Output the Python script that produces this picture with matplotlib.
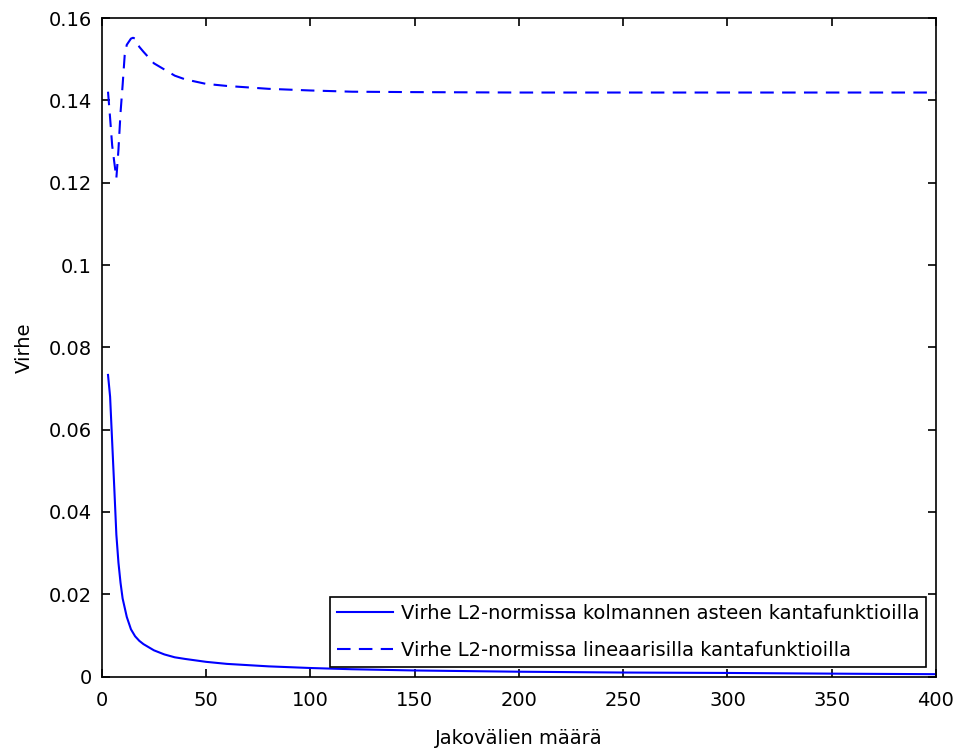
import matplotlib
matplotlib.use("Agg")
import matplotlib.pyplot as plt

# Virhe L2-normissa kolmannen asteen kantafunktioilla (solid)
x_cubic = [3, 4, 5, 6, 7, 8, 9, 10, 12, 14, 16, 18, 20, 25, 30, 35, 40, 50,
           60, 70, 80, 100, 120, 150, 200, 250, 300, 360, 400]
err_cubic = [0.0733, 0.0680, 0.0569, 0.0459, 0.0345, 0.0277, 0.0228, 0.0190,
             0.0145, 0.0115, 0.0098, 0.0087, 0.0079, 0.0064, 0.0054, 0.0047,
             0.0043, 0.0036, 0.0031, 0.0028, 0.0025, 0.0021, 0.0018, 0.0015,
             0.0012, 0.0010, 0.0009, 0.0007, 0.0006]

# Virhe L2-normissa lineaarisilla kantafunktioilla (dashed)
x_lin = [3, 4, 5, 6, 7, 8, 9, 10, 11, 12, 14, 15, 16, 18, 20, 25, 30, 35, 40,
         50, 60, 80, 100, 120, 150, 200, 300, 400]
err_lin = [0.1421, 0.1357, 0.1290, 0.1250, 0.1211, 0.1280, 0.1370, 0.1437,
           0.1510, 0.1535, 0.1550, 0.1552, 0.1550, 0.1530, 0.1518, 0.1490,
           0.1475, 0.1460, 0.1451, 0.1440, 0.1435, 0.1428, 0.1424, 0.1421,
           0.1420, 0.1419, 0.1419, 0.1419]

labels = [
    "Virhe L2-normissa kolmannen asteen kantafunktioilla",
    "Virhe L2-normissa lineaarisilla kantafunktioilla",
]

plt.rcParams["font.family"] = ["DejaVu Sans"]
plt.rcParams["font.size"] = 14

fig = plt.figure(figsize=(9.6, 7.51), dpi=100)
ax = fig.add_axes([0.106, 0.099, 0.869, 0.877])

ax.plot(x_cubic, err_cubic, "-", color="blue", linewidth=1.5, label=labels[0])
ax.plot(x_lin, err_lin, "--", color="blue", linewidth=1.5,
        dashes=(6.5, 4), label=labels[1])

ax.set_xlim(0, 400)
ax.set_ylim(0, 0.16)
ax.set_xticks(range(0, 401, 50))
ax.set_yticks([0, 0.02, 0.04, 0.06, 0.08, 0.1, 0.12, 0.14, 0.16])
ax.set_yticklabels(["0", "0.02", "0.04", "0.06", "0.08", "0.1", "0.12",
                    "0.14", "0.16"])
ax.tick_params(direction="in", top=True, right=True, length=6, width=1.2)
ax.tick_params(axis="x", pad=10)
ax.tick_params(axis="y", pad=7)
for s in ax.spines.values():
    s.set_linewidth(1.2)

ax.set_xlabel("Jakovälien määrä", labelpad=14)
ax.set_ylabel("Virhe", labelpad=11)

leg = ax.legend(loc="lower right", handlelength=2.9, handletextpad=0.4,
                fancybox=False, framealpha=1, edgecolor="black",
                borderaxespad=0.5, borderpad=0.35, labelspacing=0.95,
                fontsize=14)
leg.get_frame().set_linewidth(1.2)

fig.savefig("out.png", dpi=100)
